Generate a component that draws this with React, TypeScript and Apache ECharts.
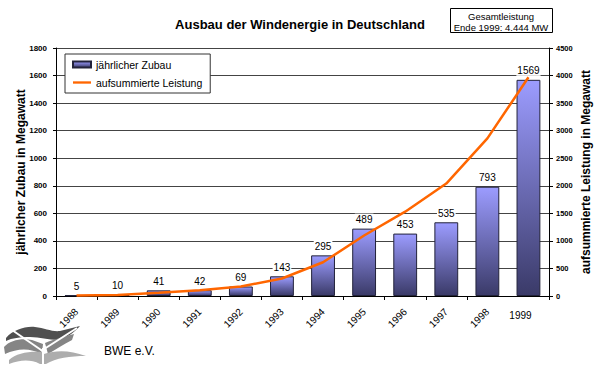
import React, { useEffect, useRef } from "react";
import * as echarts from "echarts";

const years = ["1988", "1989", "1990", "1991", "1992", "1993", "1994", "1995", "1996", "1997", "1998", "1999"];
const zubau = [5, 10, 41, 42, 69, 143, 295, 489, 453, 535, 793, 1569];
const leistung = [10, 20, 60, 103, 172, 318, 612, 1098, 1530, 2040, 2860, 3970];
const leftTicks = { min: 0, max: 1800, interval: 200 };
const rightTicks = { min: 0, max: 4500, interval: 500 };

const FONT = "'Liberation Sans', Arial, Helvetica, sans-serif";

echarts.graphic.registerShape(
  "logoDark",
  echarts.graphic.extendPath(
    "M6,338 C13,330 25,326 35,327 C45,328 52,332 60,331 L80,326 C74,333 66,338 58,340 C48,340 40,337 30,337 C20,337 12,338 6,341 Z",
    {}
  ) as any
);
echarts.graphic.registerShape(
  "logoMidL",
  echarts.graphic.extendPath(
    "M4,347 C10,340 22,338 32,340 L43,344 L42,354 C30,348 18,348 5,354 Z",
    {}
  ) as any
);
echarts.graphic.registerShape(
  "logoMidR",
  echarts.graphic.extendPath(
    "M45,343 C55,339 63,337 74,334 L72,340 C63,345 56,349 48,354 Z",
    {}
  ) as any
);
echarts.graphic.registerShape(
  "logoLight",
  echarts.graphic.extendPath(
    "M9,360 C16,353 30,351 42,352 L44,354 C56,350 70,350 86,356 C70,356 56,358 46,364 L40,364 C30,359 20,360 9,364 Z",
    {}
  ) as any
);

const plain = (v: number) => String(v);

export default function App() {
  const ref = useRef<HTMLDivElement>(null);

  useEffect(() => {
    if (!ref.current) return;
    const chart = echarts.init(ref.current, null, { renderer: "svg" });
    const barGradient = new echarts.graphic.LinearGradient(0, 0, 0, 1, [
      { offset: 0, color: "#9c9cff" },
      { offset: 1, color: "#3a3a68" },
    ]);
    chart.setOption({
      animation: false,
      backgroundColor: "#ffffff",
      textStyle: { fontFamily: FONT },
      title: {
        text: "Ausbau der Windenergie in Deutschland",
        left: "center",
        top: 13,
        textStyle: { fontSize: 13, fontWeight: "bold", color: "#000", fontFamily: FONT },
      },
      legend: {
        orient: "vertical",
        left: 65,
        top: 54,
        data: [
          { name: "jährlicher Zubau", icon: "rect" },
          { name: "aufsummierte Leistung", icon: "path://M0,0 H20 V2.6 H0 Z" },
        ],
        itemWidth: 18,
        itemHeight: 6,
        itemGap: 7,
        symbolKeepAspect: true,
        padding: [5, 8, 5, 7],
        borderColor: "#333",
        borderWidth: 1,
        backgroundColor: "#fff",
        textStyle: { fontSize: 10.5, color: "#000", fontFamily: FONT },
      },
      grid: { left: 56, right: 50, top: 48, bottom: 71 },
      xAxis: [
        {
          type: "category",
          data: years,
          axisLine: { lineStyle: { color: "#000" } },
          axisTick: { show: true, length: 4, lineStyle: { color: "#000" } },
          axisLabel: {
            interval: (i: number) => i !== 11,
            rotate: 45,
            margin: 14,
            fontSize: 10,
            color: "#000",
            fontFamily: FONT,
          },
        },
        {
          type: "category",
          data: years,
          position: "bottom",
          axisLine: { show: false },
          axisTick: { show: false },
          splitLine: { show: false },
          axisLabel: {
            interval: (i: number) => i === 11,
            rotate: 0,
            margin: 14,
            fontSize: 10,
            color: "#000",
            padding: [0, 16, 0, 0],
            fontFamily: FONT,
          },
        },
      ],
      yAxis: [
        {
          type: "value",
          ...leftTicks,
          name: "jährlicher Zubau in Megawatt",
          nameLocation: "middle",
          nameGap: 29,
          nameMoveOverlap: false,
          nameTextStyle: { fontSize: 12, fontWeight: "bold", color: "#000", fontFamily: FONT },
          axisLine: { show: true, lineStyle: { color: "#000" } },
          axisTick: { show: true, length: 3, lineStyle: { color: "#000" } },
          axisLabel: { formatter: plain, fontSize: 8, fontWeight: "bold", color: "#000", margin: 9, fontFamily: FONT },
          splitLine: { show: true, lineStyle: { color: "#444", width: 1 } },
        },
        {
          type: "value",
          ...rightTicks,
          position: "right",
          name: "aufsummierte Leistung in Megawatt",
          nameLocation: "middle",
          nameGap: 31,
          nameRotate: 90,
          nameMoveOverlap: false,
          nameTextStyle: { fontSize: 12, fontWeight: "bold", color: "#000", fontFamily: FONT },
          axisLine: { show: true, lineStyle: { color: "#000" } },
          axisTick: { show: true, length: 4, lineStyle: { color: "#000" } },
          axisLabel: { formatter: plain, fontSize: 7.5, fontWeight: "bold", color: "#000", margin: 7, fontFamily: FONT },
          splitLine: { show: false },
        },
      ],
      series: [
        {
          name: "jährlicher Zubau",
          type: "bar",
          data: zubau,
          barWidth: "58%",
          barGap: "-100%",
          z: 2,
          itemStyle: { color: barGradient, borderColor: "#22223a", borderWidth: 1 },
        },
        {
          name: "aufsummierte Leistung",
          type: "line",
          yAxisIndex: 1,
          data: leistung,
          symbol: "none",
          showSymbol: false,
          z: 3,
          lineStyle: { color: "#ff6600", width: 2.5 },
          itemStyle: { color: "#ff6600" },
        },
        {
          name: "labels",
          type: "bar",
          data: zubau,
          barWidth: "58%",
          barGap: "-100%",
          z: 5,
          silent: true,
          itemStyle: { color: "rgba(0,0,0,0)" },
          label: {
            show: true,
            position: "top",
            distance: 4,
            fontSize: 10,
            color: "#000",
            backgroundColor: "#fff",
            padding: [1, 1, 0, 1],
            fontFamily: FONT,
          },
        },
      ],
      graphic: [
        {
          type: "group",
          children: [
            {
              type: "rect",
              shape: { x: 450.5, y: 8.5, width: 102, height: 24 },
              style: { fill: "#fff", stroke: "#000", lineWidth: 1 },
            },
            {
              type: "text",
              x: 501,
              y: 16,
              style: { text: "Gesamtleistung", fontSize: 9.5, fill: "#000", align: "center", verticalAlign: "middle", fontFamily: FONT },
            },
            {
              type: "text",
              x: 501,
              y: 27,
              style: { text: "Ende 1999: 4.444 MW", fontSize: 9.5, fill: "#000", align: "center", verticalAlign: "middle", fontFamily: FONT },
            },
          ],
        },
        { type: "logoDark", style: { fill: "#505050" } },
        { type: "logoMidL", style: { fill: "#858585" } },
        { type: "logoMidR", style: { fill: "#858585" } },
        { type: "logoLight", style: { fill: "#adadad" } },
        { type: "line", shape: { x1: 12, y1: 330, x2: 44, y2: 352 }, style: { stroke: "#fff", lineWidth: 2 } },
        { type: "line", shape: { x1: 77, y1: 328, x2: 41, y2: 351 }, style: { stroke: "#fff", lineWidth: 2 } },
        { type: "line", shape: { x1: 43, y1: 348, x2: 43, y2: 365 }, style: { stroke: "#fff", lineWidth: 2 } },
        {
          type: "text",
          x: 104,
          y: 351,
          style: { text: "BWE e.V.", fontSize: 12, fill: "#000", verticalAlign: "middle", fontFamily: FONT },
        },
      ],
    });
    return () => chart.dispose();
  }, []);

  return (
    <div
      ref={ref}
      style={{ position: "fixed", left: 0, top: 0, width: 600, height: 367 }}
    />
  );
}
